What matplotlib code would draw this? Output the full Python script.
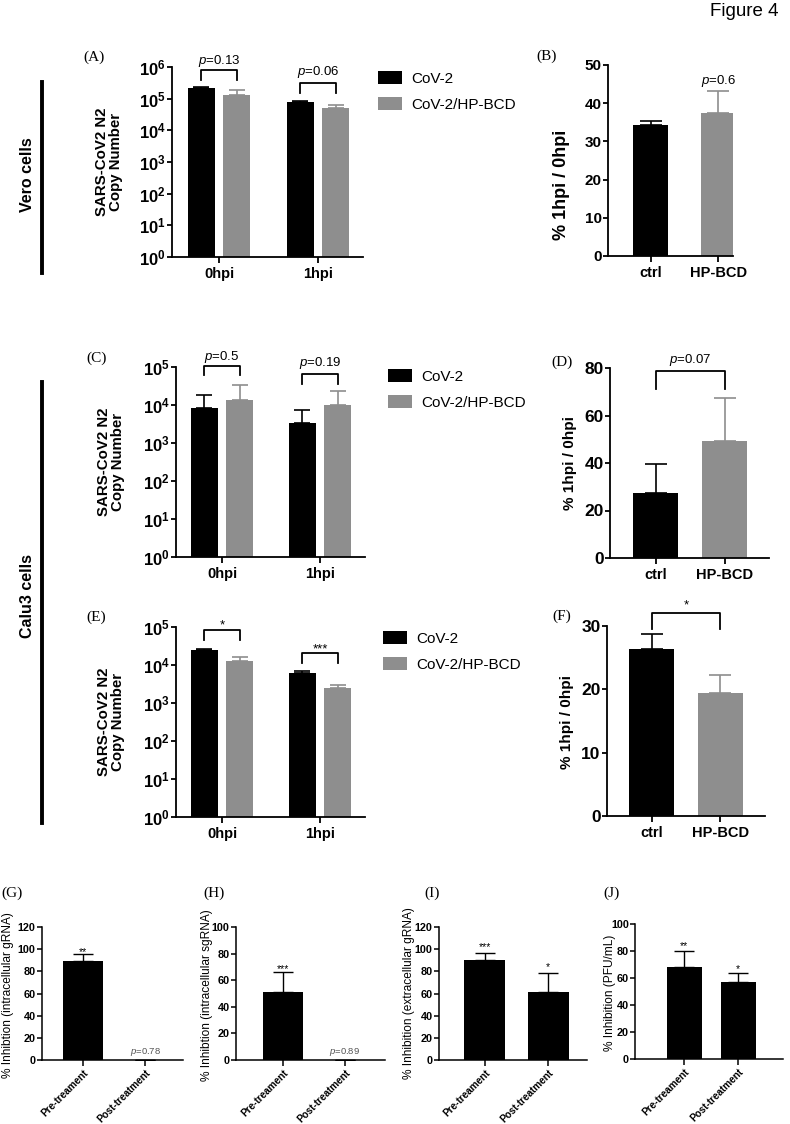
import numpy as np
import matplotlib
matplotlib.use("Agg")
import matplotlib.pyplot as plt
from matplotlib.ticker import FixedLocator, FuncFormatter, NullLocator
from matplotlib.patches import Patch
from matplotlib.lines import Line2D

plt.rcParams['font.family'] = ['Liberation Sans', 'DejaVu Sans']
plt.rcParams['mathtext.fontset'] = 'custom'
plt.rcParams['mathtext.rm'] = 'Liberation Sans'
plt.rcParams['mathtext.it'] = 'Liberation Sans:italic'
plt.rcParams['mathtext.bf'] = 'Liberation Sans:bold'

# ---- data ----
hpi_labels = ['0hpi', '1hpi']
series_names = ['CoV-2', 'CoV-2/HP-BCD']
treat_labels = ['ctrl', 'HP-BCD']
timing_labels = ['Pre-treament', 'Post-treatment']

# (A) Vero copy number
vero_cov2 = [2.2e5, 7.9e4]
vero_cov2_sd = [8e3, 3e3]
vero_hp = [1.26e5, 4.9e4]
vero_hp_sd = [6.4e4, 1.2e4]
vero_p = ['0.13', '0.06']
# (B) Vero ratio
vero_ratio = [34.3, 37.5]
vero_ratio_sd = [1.0, 5.7]
# (C) Calu3 copy number
caluC_cov2 = [8.1e3, 3.3e3]
caluC_cov2_sd = [1.0e4, 4.0e3]
caluC_hp = [1.34e4, 1.0e4]
caluC_hp_sd = [2.1e4, 1.3e4]
caluC_p = ['0.5', '0.19']
# (D) Calu3 ratio
caluD_ratio = [27.5, 49.1]
caluD_ratio_sd = [12.2, 18.3]
# (E) Calu3 copy number, second experiment
caluE_cov2 = [2.45e4, 6.3e3]
caluE_cov2_sd = [2.5e3, 8e2]
caluE_hp = [1.28e4, 2.45e3]
caluE_hp_sd = [3.8e3, 4.5e2]
caluE_sig = ['*', '***']
# (F) Calu3 ratio
caluF_ratio = [26.3, 19.5]
caluF_ratio_sd = [2.5, 2.7]
# (G)-(J) inhibition
inhib_g = [89.4, 0]
inhib_g_sd = [6.6, 0]
inhib_h = [51.2, 0]
inhib_h_sd = [15.0, 0]
inhib_i = [90.6, 61.5]
inhib_i_sd = [6.0, 17.4]
inhib_j = [67.9, 56.8]
inhib_j_sd = [12.3, 6.7]

BLACK = '#000000'
GREY = '#8e8e8e'
W, H = 790, 1124

fig = plt.figure(figsize=(W / 100, H / 100), dpi=100)


def px_axes(l, t, r, b):
    return fig.add_axes([l / W, 1 - b / H, (r - l) / W, (b - t) / H])


def fx(x):
    return x / W


def fy(y):
    return 1 - y / H


def style(ax, xfs, yfs, lw=1.3):
    for s in ['top', 'right']:
        ax.spines[s].set_visible(False)
    for s in ['left', 'bottom']:
        ax.spines[s].set_linewidth(lw)
    ax.tick_params(axis='y', width=lw, length=3.5, labelsize=yfs, pad=1)
    ax.tick_params(axis='x', width=lw, length=4.5, labelsize=xfs, pad=3)
    for lab in ax.get_xticklabels() + ax.get_yticklabels():
        lab.set_fontweight('bold')


def ylab(x, y, text, fs, weight='bold'):
    fig.text(fx(x), fy(y), text, rotation=90, ha='center', va='center',
             fontsize=fs, fontweight=weight, linespacing=1.0)


def panel_letter(letter, x, y):
    fig.text(fx(x), fy(y), '(%s)' % letter, ha='center', va='center',
             fontsize=11, family='Liberation Serif')


def bracket(ax, x0, x1, top, leg, text, ty, fs=9.5):
    ax.plot([x0, x0, x1, x1], [leg, top, top, leg], color='black', lw=1.3,
            clip_on=False)
    ax.text((x0 + x1) / 2, ty, text, ha='center', va='center', fontsize=fs,
            clip_on=False)


def log_fmt(v, _):
    return r'$\mathbf{10^{%d}}$' % int(round(np.log10(v)))


def hpi_panel(box, cov2, cov2_sd, hp, hp_sd, top_exp, xlim):
    ax = px_axes(*box)
    x = np.arange(len(hpi_labels))
    off, w = 0.18, 0.27
    ax.bar(x - off, cov2, w, color=BLACK)
    ax.bar(x + off, hp, w, color=GREY)
    ax.errorbar(x - off, cov2, yerr=[np.zeros(2), cov2_sd], fmt='none',
                ecolor=BLACK, elinewidth=1.2, capsize=6, capthick=1.2)
    ax.errorbar(x + off, hp, yerr=[np.zeros(2), hp_sd], fmt='none',
                ecolor=GREY, elinewidth=1.2, capsize=6, capthick=1.2)
    ax.set_yscale('log')
    ax.set_ylim(1, 10 ** top_exp)
    ax.set_xlim(*xlim)
    ax.yaxis.set_major_locator(FixedLocator([10.0 ** k for k in range(top_exp + 1)]))
    ax.yaxis.set_minor_locator(NullLocator())
    ax.yaxis.set_major_formatter(FuncFormatter(log_fmt))
    ax.set_xticks(x)
    ax.set_xticklabels(hpi_labels)
    style(ax, 10.5, 12)
    return ax


def ratio_panel(box, vals, sd, ymax, step, xlim, width, yfs):
    ax = px_axes(*box)
    x = np.arange(len(treat_labels))
    ax.bar(x, vals, width, color=[BLACK, GREY])
    for xi, v, s, c in zip(x, vals, sd, [BLACK, GREY]):
        ax.errorbar([xi], [v], yerr=[[0], [s]], fmt='none', ecolor=c,
                    elinewidth=1.2, capsize=8, capthick=1.2)
    ax.set_ylim(0, ymax)
    ax.set_yticks(np.arange(0, ymax + 1, step))
    ax.set_xlim(*xlim)
    ax.set_xticks(x)
    ax.set_xticklabels(treat_labels)
    style(ax, 10.5, yfs)
    return ax


def legend_at(ax, x, y):
    handles = [Patch(facecolor=BLACK), Patch(facecolor=GREY)]
    ax.legend(handles, series_names, loc='upper left',
              bbox_to_anchor=(fx(x), fy(y)), bbox_transform=fig.transFigure,
              frameon=False, fontsize=11, handlelength=1.6, handleheight=0.95,
              handletextpad=0.6, labelspacing=0.75, borderpad=0,
              borderaxespad=0)


def inhib_panel(box, vals, sd, ymax, xlim):
    ax = px_axes(*box)
    x = np.arange(len(timing_labels))
    ax.bar(x, vals, 0.65, color=BLACK)
    ax.errorbar(x, vals, yerr=[np.zeros(2), sd], fmt='none', ecolor=BLACK,
                elinewidth=1.0, capsize=7, capthick=1.0)
    ax.set_ylim(0, ymax)
    ax.set_yticks(np.arange(0, ymax + 1, 20))
    ax.set_xlim(*xlim)
    ax.set_xticks(x)
    ax.set_xticklabels(timing_labels, rotation=45, ha='right',
                       rotation_mode='anchor')
    style(ax, 7.2, 7.8, lw=1.1)
    ax.tick_params(axis='x', length=4, pad=1.5)
    return ax


# ---- top: Vero cells ----
fig.text(fx(778), fy(12), 'Figure 4', ha='right', va='center', fontsize=13.5)

axA = hpi_panel((172, 67, 363, 257), vero_cov2, vero_cov2_sd, vero_hp,
                vero_hp_sd, 6, (-0.475, 1.455))
bracket(axA, -0.18, 0.18, 10 ** 5.9, 10 ** 5.59, r'$p$=%s' % vero_p[0], 10 ** 6.2)
bracket(axA, 0.82, 1.18, 10 ** 5.49, 10 ** 5.18, r'$p$=%s' % vero_p[1], 10 ** 5.83)
ylab(109, 162, 'SARS-CoV2 N2\nCopy Number', 10.8)
legend_at(axA, 378, 71)
panel_letter('A', 94, 57)

axB = ratio_panel((608, 65, 733, 256), vero_ratio, vero_ratio_sd, 50, 10,
                  (-0.63, 1.22), 0.52, 11)
axB.text(1, 45.9, r'$p$=0.6', ha='center', va='center', fontsize=9.5)
ylab(562, 185, '% 1hpi / 0hpi', 13)
panel_letter('B', 547, 56)

fig.add_artist(Line2D([fx(42), fx(42)], [fy(82), fy(273)], color='black',
                      lw=2.8))
fig.text(fx(28), fy(175), 'Vero cells', rotation=90, ha='center',
         va='center', fontsize=11.5, fontweight='bold')

# ---- middle: Calu3 cells ----
axC = hpi_panel((176, 367, 365, 557), caluC_cov2, caluC_cov2_sd, caluC_hp,
                caluC_hp_sd, 5, (-0.47, 1.46))
bracket(axC, -0.18, 0.18, 10 ** 5.03, 10 ** 4.78, r'$p$=%s' % caluC_p[0], 10 ** 5.26)
bracket(axC, 0.82, 1.18, 10 ** 4.81, 10 ** 4.56, r'$p$=%s' % caluC_p[1], 10 ** 5.1)
ylab(111, 462, 'SARS-CoV2 N2\nCopy Number', 10.8)
legend_at(axC, 388, 369)
panel_letter('C', 97, 358)

axD = ratio_panel((610, 368, 769, 558), caluD_ratio, caluD_ratio_sd, 80, 20,
                  (-0.66, 1.64), 0.65, 12.5)
bracket(axD, 0, 1, 78.6, 71.3, r'$p$=0.07', 83.5)
ylab(570, 463, '% 1hpi / 0hpi', 11)
panel_letter('D', 562, 362)

axE = hpi_panel((176, 627, 365, 817), caluE_cov2, caluE_cov2_sd, caluE_hp,
                caluE_hp_sd, 5, (-0.47, 1.46))
bracket(axE, -0.18, 0.18, 10 ** 4.93, 10 ** 4.65, caluE_sig[0], 10 ** 5.03)
bracket(axE, 0.82, 1.18, 10 ** 4.32, 10 ** 4.04, caluE_sig[1], 10 ** 4.42)
ylab(111, 722, 'SARS-CoV2 N2\nCopy Number', 10.8)
legend_at(axE, 383, 631)
panel_letter('E', 96, 617)

axF = ratio_panel((607, 626, 765, 816), caluF_ratio, caluF_ratio_sd, 30, 10,
                  (-0.645, 1.645), 0.65, 12.5)
bracket(axF, 0, 1, 32.1, 29.5, '*', 33.2)
ylab(567, 722, '% 1hpi / 0hpi', 11)
panel_letter('F', 562, 616)

fig.add_artist(Line2D([fx(42), fx(42)], [fy(382), fy(823)], color='black',
                      lw=2.8))
fig.text(fx(28), fy(596), 'Calu3 cells', rotation=90, ha='center',
         va='center', fontsize=11.5, fontweight='bold')

# ---- bottom: inhibition ----
axG = inhib_panel((42, 927, 183, 1060), inhib_g, inhib_g_sd, 120, (-0.66, 1.61))
axG.text(0, 97.5, '**', ha='center', va='center', fontsize=7.5)
axG.text(1, 7.5, r'$p$=0.78', ha='center', va='center', fontsize=6.8, color='#555555')
ylab(8, 995, '% Inhibtion (intracellular gRNA)', 8.6, 'normal')
panel_letter('G', 12, 893)

axH = inhib_panel((236, 927, 385, 1060), inhib_h, inhib_h_sd, 100, (-0.77, 1.65))
axH.text(0, 68.5, '***', ha='center', va='center', fontsize=7.5)
axH.text(1, 6.3, r'$p$=0.89', ha='center', va='center', fontsize=6.8, color='#555555')
ylab(207, 995, '% Inhibtion (intracellular sgRNA)', 8.6, 'normal')
panel_letter('H', 214, 893)

axI = inhib_panel((439, 927, 587, 1060), inhib_i, inhib_i_sd, 120, (-0.72, 1.61))
axI.text(0, 101.5, '***', ha='center', va='center', fontsize=7.5)
axI.text(1, 84, '*', ha='center', va='center', fontsize=7.5)
ylab(409, 993, '% Inhibition (extracellular gRNA)', 8.6, 'normal')
panel_letter('I', 432, 893)

axJ = inhib_panel((635, 924, 783, 1059), inhib_j, inhib_j_sd, 100, (-0.91, 1.83))
axJ.text(0, 83.5, '**', ha='center', va='center', fontsize=7.5)
axJ.text(1, 66.5, '*', ha='center', va='center', fontsize=7.5)
ylab(610, 993, '% Inhibition (PFU/mL)', 8.6, 'normal')
panel_letter('J', 611, 893)

fig.savefig('out.png', dpi=100)
